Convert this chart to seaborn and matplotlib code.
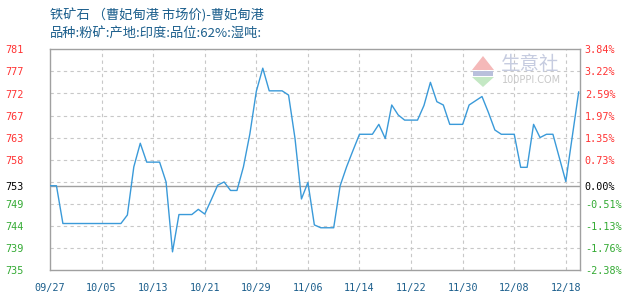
import numpy as np
import pandas as pd
import matplotlib
matplotlib.use("Agg")
import matplotlib.pyplot as plt
from matplotlib.patches import Polygon, Rectangle
import seaborn as sns

# ---------------- data ----------------
title_line1 = "铁矿石 （曹妃甸港 市场价)-曹妃甸港"
title_line2 = "品种:粉矿:产地:印度:品位:62%:湿吨:"

x_tick_labels = ['09/27', '10/05', '10/13', '10/21', '10/29', '11/06',
                 '11/14', '11/22', '11/30', '12/08', '12/18']

prices = [
    752.5, 752.5, 744.5, 744.5, 744.5, 744.5, 744.5, 744.5, 744.5, 744.5,
    744.5, 744.5, 746.3, 756.5, 761.5, 757.5, 757.5, 757.5, 753.3, 738.5,
    746.4, 746.4, 746.4, 747.5, 746.5, 749.5, 752.6, 753.3, 751.5, 751.5,
    756.5, 763.5, 772.5, 777.4, 772.6, 772.6, 772.6, 771.7, 762.5, 749.7,
    753.2, 744.2, 743.6, 743.6, 743.6, 752.5, 756.5, 760.0, 763.4, 763.4,
    763.4, 765.5, 762.5, 769.6, 767.5, 766.4, 766.4, 766.4, 769.5, 774.4,
    770.3, 769.6, 765.5, 765.5, 765.5, 769.6, 770.5, 771.4, 768.0, 764.3,
    763.4, 763.4, 763.4, 756.4, 756.4, 765.5, 762.7, 763.4, 763.4, 758.4,
    753.4, 762.9, 772.4,
]

left_labels = ['781', '777', '772', '767', '763', '758', '753',
               '749', '744', '739', '735']
pct_values = [3.84, 3.22, 2.59, 1.97, 1.35, 0.73, 0.00,
              -0.51, -1.13, -1.76, -2.38]
right_labels = ['3.84%', '3.22%', '2.59%', '1.97%', '1.35%', '0.73%', '0.00%',
                '-0.51%', '-1.13%', '-1.76%', '-2.38%']

# ---------------- style ----------------
sns.set_style("white")
plt.rcParams['font.family'] = ['Noto Sans CJK SC', 'DejaVu Sans']

W, H = 630, 300
fig = plt.figure(figsize=(W / 100, H / 100), dpi=100)
left_px, right_px, top_px, bot_px = 50, 580, 49.3, 270.3
ax = fig.add_axes([left_px / W, 1 - bot_px / H,
                   (right_px - left_px) / W, (bot_px - top_px) / H])

df = pd.DataFrame({"idx": np.arange(len(prices)), "price": prices})

base = prices[0]
ymin = base * (1 + pct_values[-1] / 100)
ymax = base * (1 + pct_values[0] / 100)
tick_pos = [base * (1 + p / 100) for p in pct_values]

# grid
grid_c = '#c8c8c8'
for yv in np.linspace(ymin, ymax, 11)[1:-1]:
    ax.axhline(yv, color=grid_c, lw=0.8, ls=(0, (3, 3)), zorder=1)
x_ticks = np.arange(0, 8 * len(x_tick_labels), 8)
for xv in x_ticks[1:]:
    ax.axvline(xv, color=grid_c, lw=0.8, ls=(0, (3, 3)), zorder=1)
ax.axhline(base, color='#a0a0a0', lw=1.0, zorder=2)

sns.lineplot(data=df, x="idx", y="price", ax=ax, color='#3a9ad9',
             lw=1.0, zorder=3)

ax.set_xlim(0, 82.2)
ax.set_ylim(ymin, ymax)
ax.set_xlabel("")
ax.set_ylabel("")

for s in ax.spines.values():
    s.set_color('#a0a0a0')
    s.set_linewidth(1.0)

red, green, black = '#ff3333', '#33aa33', '#000000'

def col(p):
    return red if p > 0 else (black if p == 0 else green)

mono = 'DejaVu Sans Mono'
ax.set_xticks(x_ticks)
ax.set_xticklabels(x_tick_labels, family=mono, fontsize=7.3, color='#1b5e8c')
ax.tick_params(axis='x', length=0, pad=9.5)

ax.set_yticks(tick_pos)
ax.set_yticklabels(left_labels, family=mono, fontsize=7.3)
ax.tick_params(axis='y', length=0, pad=32.5)
for lab, p in zip(ax.get_yticklabels(), pct_values):
    lab.set_color(col(p))
    lab.set_horizontalalignment('left')

ax2 = ax.twinx()
ax2.set_ylim(ymin, ymax)
ax2.set_yticks(tick_pos)
ax2.set_yticklabels(right_labels, family=mono, fontsize=7.3)
ax2.tick_params(axis='y', length=0, pad=3.5)
for lab, p in zip(ax2.get_yticklabels(), pct_values):
    lab.set_color(col(p))
for s in ax2.spines.values():
    s.set_visible(False)

# titles
fig.text(50 / W, 1 - 15 / H, title_line1, fontsize=9.5, color='#1b5e8c',
         ha='left', va='center')
fig.text(50 / W, 1 - 34 / H, title_line2, fontsize=9.5, color='#1b5e8c',
         ha='left', va='center')

# watermark
def fx(x):
    return x / W

def fy(y):
    return 1 - y / H

fig.add_artist(Polygon([(fx(472), fy(70)), (fx(494), fy(70)), (fx(483), fy(56))],
                       closed=True, transform=fig.transFigure,
                       facecolor='#f5b9b9', edgecolor='none', zorder=0.5))
fig.add_artist(Rectangle((fx(473), fy(76)), fx(20), 5 / H,
                         transform=fig.transFigure, facecolor='#b9c0dc',
                         edgecolor='none', zorder=0.5))
fig.add_artist(Polygon([(fx(472), fy(77)), (fx(494), fy(77)), (fx(483), fy(87))],
                       closed=True, transform=fig.transFigure,
                       facecolor='#c4e8c4', edgecolor='none', zorder=0.5))
fig.text(fx(501), fy(65), "生意社", fontsize=14, color='#c6cce0',
         ha='left', va='center', zorder=0.5)
fig.text(fx(502), fy(80), "100PPI.COM", fontsize=7, color='#c8c8c8',
         family='DejaVu Sans', ha='left', va='center', zorder=0.5)

fig.savefig("out.png", dpi=100)
